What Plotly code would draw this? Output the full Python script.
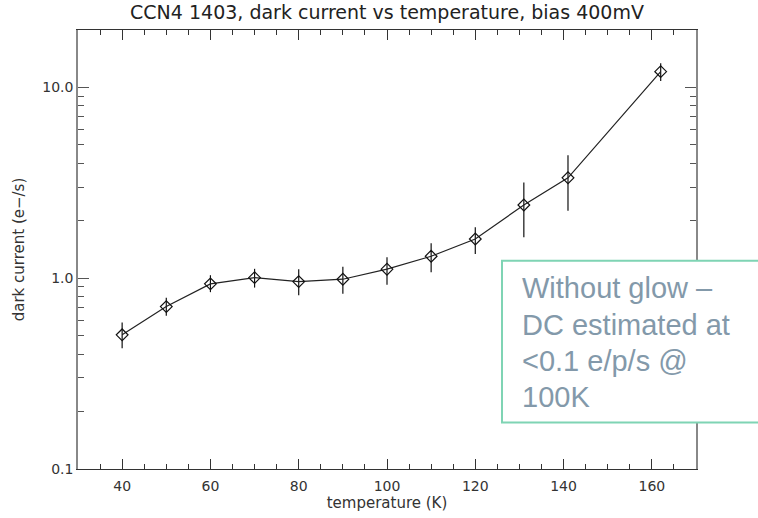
import plotly.graph_objects as go

temperature = [40, 50, 60, 70, 80, 90, 100, 110, 120, 131, 141, 162]
dark_current = [0.505, 0.71, 0.934, 1.007, 0.96, 0.988, 1.115, 1.304, 1.606, 2.42, 3.36, 12.1]
err_high = [0.586, 0.791, 1.037, 1.12, 1.115, 1.15, 1.288, 1.525, 1.85, 3.17, 4.41, 13.4]
err_low = [0.43, 0.635, 0.845, 0.893, 0.815, 0.83, 0.923, 1.075, 1.34, 1.64, 2.26, 10.8]

y_ticks = [0.1, 1, 10]
y_ticktext = ["0.1", "1.0", "10.0"]
y_minor = [0.2, 0.3, 0.4, 0.5, 0.6, 0.7, 0.8, 0.9, 2, 3, 4, 5, 6, 7, 8, 9]

title_text = "CCN4 1403, dark current vs temperature, bias 400mV"
note_lines = ["Without glow –", "DC estimated at", "&lt;0.1 e/p/s @", "100K"]

plus = [h - v for h, v in zip(err_high, dark_current)]
minus = [v - l for v, l in zip(dark_current, err_low)]

fig = go.Figure()
fig.add_trace(go.Scatter(
    x=temperature, y=dark_current,
    mode="lines+markers",
    line=dict(color="#222222", width=1.2),
    marker=dict(symbol="diamond-open", size=9, color="#111111", line=dict(width=1.2)),
    error_y=dict(type="data", symmetric=False, array=plus, arrayminus=minus,
                 color="#111111", thickness=1.2, width=0),
    showlegend=False,
))

tick_font = dict(family="DejaVu Sans", size=14, color="#333333")
title_font = dict(family="DejaVu Sans", size=15, color="#333333")

fig.update_layout(
    width=758, height=518,
    margin=dict(l=78, r=62, t=30, b=49),
    paper_bgcolor="white", plot_bgcolor="white",
    title=dict(text=title_text, x=387 / 758, xanchor="center", y=1 - 12 / 518, yanchor="middle",
               font=dict(family="DejaVu Sans", size=19, color="#222222")),
    xaxis=dict(
        range=[30, 170], tick0=0, dtick=20, showgrid=False, zeroline=False,
        showline=True, linecolor="#333333", linewidth=1.2, mirror="ticks",
        ticks="inside", ticklen=10, tickcolor="#333333", tickwidth=1,
        tickfont=tick_font, ticklabelstandoff=4,
        minor=dict(ticks="inside", ticklen=5, dtick=5, tick0=0, tickcolor="#333333", showgrid=False),
        title=dict(text="temperature (K)", font=title_font, standoff=2),
    ),
    yaxis=dict(
        type="log", range=[-1, 1.30103], showgrid=False, zeroline=False,
        showline=True, linecolor="#888888", linewidth=1.5, mirror="ticks",
        tickmode="array", tickvals=y_ticks, ticktext=y_ticktext,
        ticks="inside", ticklen=11, tickcolor="#555555", tickwidth=1,
        tickfont=tick_font,
        minor=dict(ticks="inside", ticklen=6, tickmode="array", tickvals=y_minor,
                   tickcolor="#555555", showgrid=False),
        title=dict(text="dark current (e−/s)", font=title_font, standoff=14),
    ),
)

fig.add_shape(type="rect", xref="paper", yref="paper",
              x0=(502 - 78) / 618, x1=1.3,
              y0=(469.3 - 422.7) / 439, y1=(469.3 - 261) / 439,
              line=dict(color="#7fd4b4", width=2), fillcolor="white", layer="above")
line_centers = [288, 325, 361.5, 397.5]
for txt, yc in zip(note_lines, line_centers):
    fig.add_annotation(text=txt, xref="paper", yref="paper",
                       x=(520 - 78) / 618, y=(469.3 - yc) / 439,
                       xanchor="left", yanchor="middle", align="left", showarrow=False,
                       font=dict(family="Liberation Sans", size=29, color="#8399aa"))

fig.write_html("out.html")
